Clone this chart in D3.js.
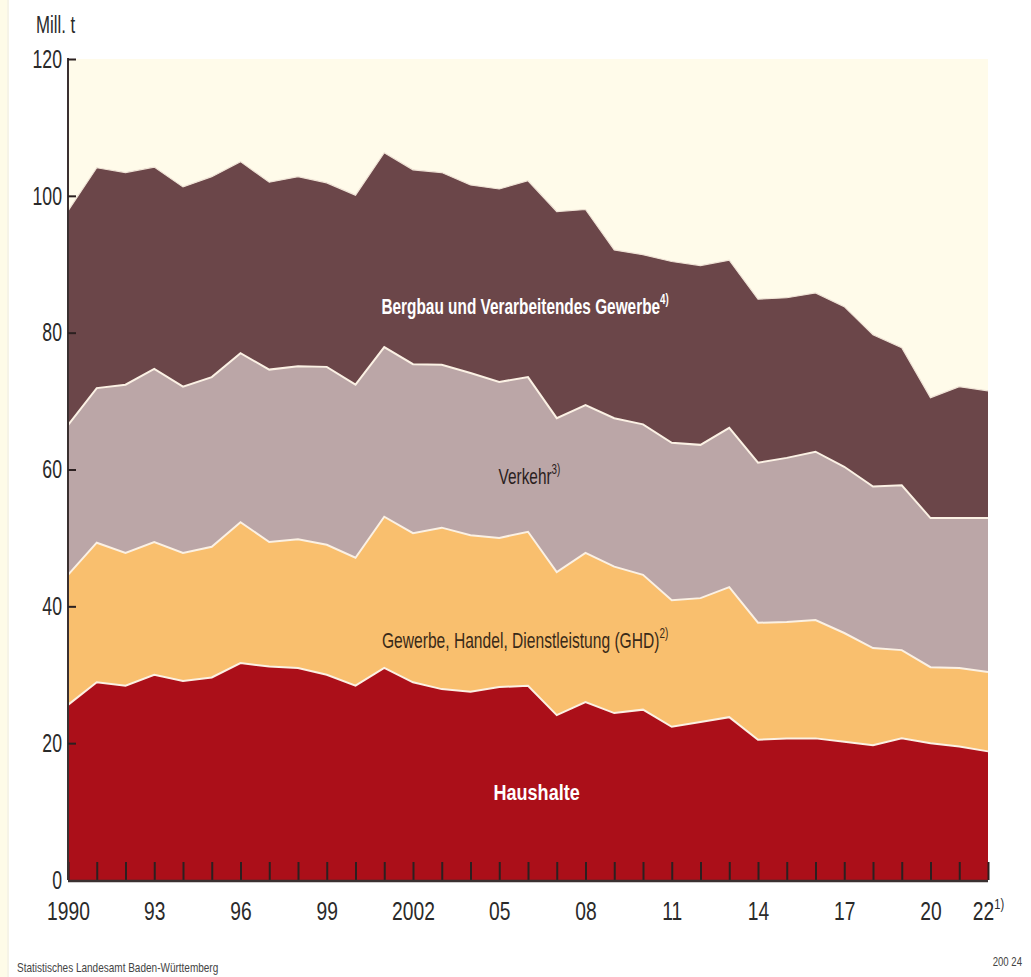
<!DOCTYPE html>
<html>
<head>
<meta charset="utf-8">
<script src="https://cdn.jsdelivr.net/npm/d3@7"></script>
<style>
  body { margin: 0; background: #ffffff; }
  svg { display: block; }
  text { font-family: "Liberation Sans", Arial, sans-serif; }
  .tick line { stroke: #2b2020; stroke-width: 2; }
  .domain { display: none; }
</style>
</head>
<body>
<div id="chart"></div>
<script>
// years on the x axis
const years = d3.range(1990, 2023);

// Mill. t per sector
const haushalte = [25.6, 28.9, 28.4, 30.0, 29.1, 29.6, 31.7, 31.2, 31.0, 30.0, 28.4, 31.0, 28.9, 27.9, 27.5, 28.2, 28.4,
                   24.1, 26.0, 24.4, 24.9, 22.4, 23.1, 23.8, 20.5, 20.7, 20.7, 20.2, 19.7, 20.7, 20.0, 19.5, 18.8];
const ghd = [19.0, 20.4, 19.4, 19.4, 18.7, 19.1, 20.6, 18.2, 18.8, 19.0, 18.7, 22.1, 21.8, 23.6, 22.9, 21.8, 22.5,
             20.9, 21.8, 21.4, 19.7, 18.5, 18.1, 19.0, 17.1, 17.0, 17.3, 15.9, 14.2, 12.9, 11.1, 11.5, 11.6];
const verkehr = [21.9, 22.6, 24.6, 25.3, 24.3, 24.8, 24.7, 25.2, 25.3, 26.0, 25.3, 24.8, 24.7, 23.8, 23.7, 22.8, 22.6,
                 22.5, 21.6, 21.7, 22.0, 23.0, 22.4, 23.3, 23.4, 24.0, 24.6, 24.3, 23.6, 24.1, 21.8, 21.9, 22.5];
const industrie = [31.3, 32.2, 31.0, 29.5, 29.2, 29.3, 28.0, 27.4, 27.7, 26.9, 27.7, 28.4, 28.4, 28.1, 27.5, 28.2, 28.7,
                   30.2, 28.6, 24.6, 24.8, 26.5, 26.2, 24.5, 23.9, 23.4, 23.2, 23.4, 22.2, 20.1, 17.6, 19.2, 18.6];

const keys = ["haushalte", "ghd", "verkehr", "industrie"];
const colors = ["#ab0f19", "#f9bf6e", "#bba6a7", "#6b4649"];

// labelled x ticks
const labelYears = [1990, 1993, 1996, 1999, 2002, 2005, 2008, 2011, 2014, 2017, 2020, 2022];
const labelText = ["1990", "93", "96", "99", "2002", "05", "08", "11", "14", "17", "20", "22"];
const yTicks = [0, 20, 40, 60, 80, 100, 120];

const width = 1031, height = 977;
const plotLeft = 68, plotRight = 988, plotTop = 59, plotBottom = 880;

// no narrow font installed, so squeeze the text horizontally
function condense(sel, sx) {
  sel.each(function () {
    const t = d3.select(this);
    const x0 = +(t.attr("x") || 0);
    t.attr("x", x0 / sx).attr("transform", `scale(${sx},1)`);
  });
}

const rows = years.map((yr, i) => ({
  year: yr, haushalte: haushalte[i], ghd: ghd[i], verkehr: verkehr[i], industrie: industrie[i]
}));

const series = d3.stack().keys(keys)(rows);

const x = d3.scaleLinear().domain([1990, 2022]).range([plotLeft, plotRight]);
const y = d3.scaleLinear().domain([0, 120]).range([plotBottom, plotTop]);

const svg = d3.select("#chart").append("svg")
  .attr("width", width)
  .attr("height", height);

// cream strip on the left edge
svg.append("rect").attr("x", 0).attr("y", 0).attr("width", 7).attr("height", height).attr("fill", "#fefbe8");
svg.append("line").attr("x1", 8).attr("x2", 8).attr("y1", 0).attr("y2", height)
  .attr("stroke", "#ece7cf").attr("stroke-width", 1);

// plot background
svg.append("rect")
  .attr("x", x(1990)).attr("y", y(120))
  .attr("width", x(2022) - x(1990)).attr("height", y(0) - y(120))
  .attr("fill", "#fffbea");

const area = d3.area()
  .x(d => x(d.data.year))
  .y0(d => y(d[0]))
  .y1(d => y(d[1]));

svg.append("g").selectAll("path")
  .data(series)
  .join("path")
  .attr("fill", (d, i) => colors[i])
  .attr("d", area);

// light edges between the layers
const edge = d3.line()
  .x(d => x(d.data.year))
  .y(d => y(d[1]));

svg.append("g").selectAll("path")
  .data(series)
  .join("path")
  .attr("fill", "none")
  .attr("stroke", (d, i) => i === 3 ? "#efe3d6" : "#fbf1e4")
  .attr("stroke-width", (d, i) => i === 3 ? 1.2 : 2)
  .attr("d", edge);

// x axis: yearly ticks pointing up into the plot
svg.append("g")
  .attr("transform", `translate(0,${plotBottom})`)
  .call(d3.axisBottom(x).tickValues(years).tickSizeInner(-18).tickSizeOuter(0).tickFormat(""));

svg.append("line")
  .attr("x1", plotLeft).attr("x2", plotRight).attr("y1", plotBottom + 1).attr("y2", plotBottom + 1)
  .attr("stroke", "#3a3030").attr("stroke-width", 2.5);

const xLab = svg.append("g")
  .attr("transform", `translate(0,${plotBottom})`)
  .call(d3.axisBottom(x).tickValues(labelYears).tickSize(0).tickPadding(22)
    .tickFormat((d, i) => labelText[i]));
xLab.selectAll("text")
  .attr("fill", "#2a2a2a")
  .attr("font-size", 26);
xLab.selectAll(".tick").filter(d => d === 2022).select("text")
  .append("tspan").attr("dy", -11).attr("font-size", 15).text("1)");
condense(xLab.selectAll("text"), 0.74);

// y axis
svg.append("line")
  .attr("x1", plotLeft).attr("x2", plotLeft).attr("y1", plotTop - 1).attr("y2", plotBottom)
  .attr("stroke", "#3a3030").attr("stroke-width", 2);

const yAx = svg.append("g")
  .attr("transform", `translate(${plotLeft},0)`)
  .call(d3.axisLeft(y).tickValues(yTicks).tickSizeInner(-8).tickSizeOuter(0).tickPadding(6));
yAx.selectAll("text")
  .attr("fill", "#2a2a2a")
  .attr("font-size", 26);
yAx.selectAll(".tick").filter(d => d === 0).select("line").remove();
condense(yAx.selectAll("text"), 0.68);

const unit = svg.append("text")
  .attr("x", 36).attr("y", 33)
  .attr("font-size", 24).attr("fill", "#2a2a2a")
  .text("Mill. t");
condense(unit, 0.7);

// area labels
const labels = [
  { text: "Bergbau und Verarbeitendes Gewerbe", sup: "4)", xv: 2005.9, yv: 82.8, color: "#ffffff", bold: true, sx: 0.7 },
  { text: "Verkehr", sup: "3)", xv: 2006.05, yv: 57.9, color: "#2a2020", bold: false, sx: 0.7 },
  { text: "Gewerbe, Handel, Dienstleistung (GHD)", sup: "2)", xv: 2005.9, yv: 33.9, color: "#3a2a18", bold: false, sx: 0.71 },
  { text: "Haushalte", sup: "", xv: 2006.3, yv: 11.7, color: "#ffffff", bold: true, sx: 0.82 }
];

labels.forEach(l => {
  const t = svg.append("text")
    .attr("x", x(l.xv)).attr("y", y(l.yv))
    .attr("text-anchor", "middle")
    .attr("font-size", 22)
    .attr("font-weight", l.bold ? "bold" : "normal")
    .attr("fill", l.color)
    .text(l.text);
  if (l.sup) {
    t.append("tspan").attr("dy", -10).attr("font-size", 14).text(l.sup);
  }
  condense(t, l.sx);
});

// source line
const src = svg.append("text")
  .attr("x", 17).attr("y", 972)
  .attr("font-size", 13).attr("fill", "#444")
  .text("Statistisches Landesamt Baden-Württemberg");
condense(src, 0.77);

const code = svg.append("text")
  .attr("x", 1022).attr("y", 966)
  .attr("text-anchor", "end")
  .attr("font-size", 12).attr("fill", "#444")
  .text("200 24");
condense(code, 0.8);
</script>
</body>
</html>
